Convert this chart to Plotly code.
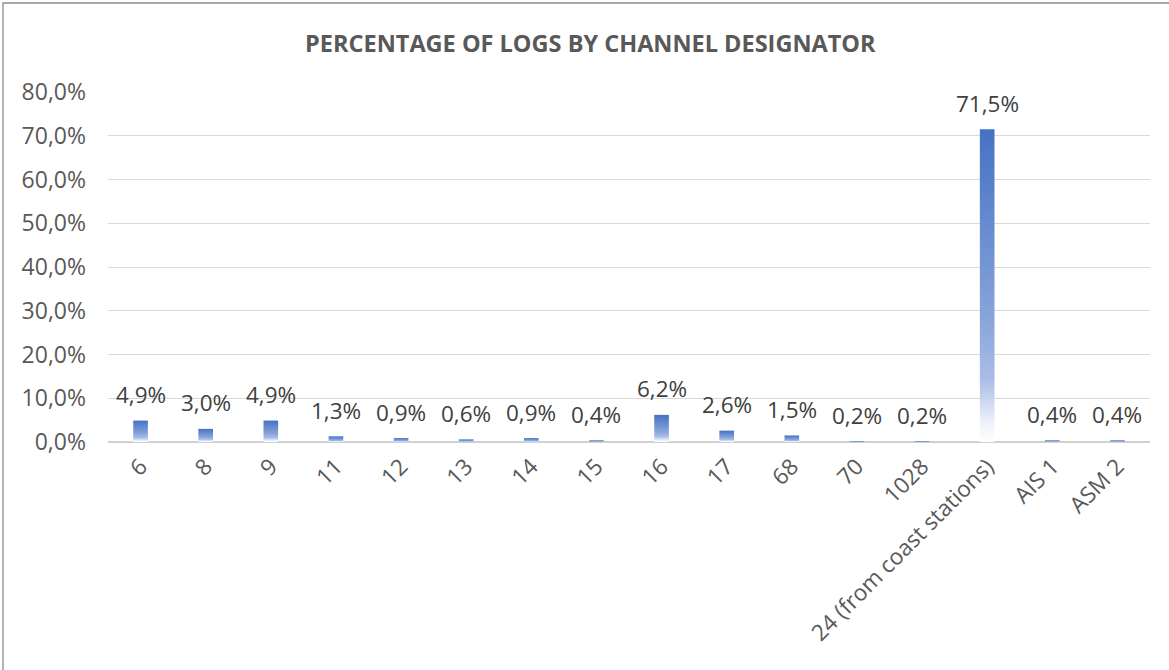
import plotly.graph_objects as go

# Channel designators and share of logs (%)
channels = ["6", "8", "9", "11", "12", "13", "14", "15", "16", "17", "68", "70",
            "1028", "24 (from coast stations)", "AIS 1", "ASM 2"]
share_pct = [4.9, 3.0, 4.9, 1.3, 0.9, 0.6, 0.9, 0.4, 6.2, 2.6, 1.5, 0.2,
             0.2, 71.5, 0.4, 0.4]
y_ticks = [0, 10, 20, 30, 40, 50, 60, 70, 80]

BAR_W = 0.225
BLUE = "#4472C4"
gradient = [[0.0, "#ffffff"], [0.06, "#eef2fa"], [0.2, "#aabde6"],
            [0.4, "#87a3da"], [1.0, BLUE]]


def pct(v):
    return f"{v:.1f}".replace(".", ",") + "%"


fig = go.Figure()

# Each bar is a filled rectangle so it can carry a vertical gradient
for i, v in enumerate(share_pct):
    x0, x1 = i - BAR_W / 2, i + BAR_W / 2
    fig.add_trace(go.Scatter(
        x=[x0, x1, x1, x0, x0], y=[0, 0, v, v, 0],
        mode="lines", fill="toself", line=dict(width=0),
        fillgradient=dict(type="vertical", colorscale=gradient),
        hoverinfo="skip", showlegend=False,
    ))

# Value labels above bars
annotations = [
    dict(x=i, y=v, xref="x", yref="y", text=pct(v), showarrow=False,
         yanchor="middle", yshift=26,
         font=dict(family="Open Sans", size=22.5, color="#404040"))
    for i, v in enumerate(share_pct)
]

fig.update_layout(
    width=1169, height=670,
    paper_bgcolor="white", plot_bgcolor="white",
    margin=dict(l=108, r=19, t=92, b=228),
    title=dict(text="<b>PERCENTAGE OF LOGS BY CHANNEL DESIGNATOR</b>",
               x=0.505, xanchor="center", y=1 - 44 / 670, yanchor="middle",
               font=dict(family="Open Sans", size=23.5, color="#595959")),
    font=dict(family="Open Sans", color="#595959"),
    annotations=annotations,
    shapes=[dict(type="rect", xref="paper", yref="paper",
                 x0=-105 / 1042, x1=1.2, y0=-1.0, y1=1 + 89 / 350,
                 line=dict(color="#8c8c8c", width=1.3), layer="below")],
)

fig.update_xaxes(
    range=[-0.5, len(channels) - 0.5],
    tickmode="array", tickvals=list(range(len(channels))), ticktext=channels,
    tickangle=-45, tickfont=dict(size=22.5, color="#595959"),
    ticklabelstandoff=6,
    showgrid=False, zeroline=False, showline=False, ticks="",
)
fig.update_yaxes(
    range=[0, 80], tickmode="array", tickvals=y_ticks,
    ticktext=[pct(t) for t in y_ticks],
    tickfont=dict(size=23, color="#595959"), ticklabelstandoff=21,
    showgrid=True, gridcolor="#d9d9d9", gridwidth=1,
    zeroline=True, zerolinecolor="#d0d0d0", zerolinewidth=2,
    showline=False, ticks="",
)

fig.write_html("out.html")
